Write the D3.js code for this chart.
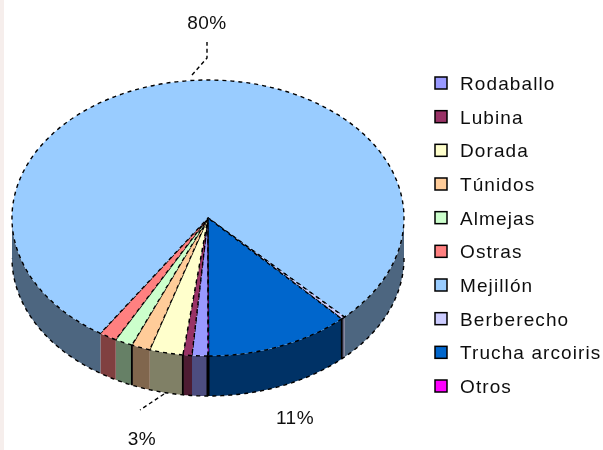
<!DOCTYPE html>
<html>
<head>
<meta charset="utf-8">
<script src="https://cdn.jsdelivr.net/npm/d3@7/dist/d3.min.js"></script>
<style>
  html, body { margin: 0; padding: 0; background: #fff; }
  svg { display: block; }
  text { font-family: "Liberation Sans", Arial, sans-serif; fill: #111; }
</style>
</head>
<body>
<svg width="603" height="450"></svg>
<script>
var categories = ["Rodaballo", "Lubina", "Dorada", "Túnidos", "Almejas", "Ostras",
  "Mejillón", "Berberecho", "Trucha arcoiris", "Otros"];
var shares = [1.3, 0.75, 2.75, 1.55, 1.45, 1.45, 78.5, 0.3, 11.9, 0.05];
var colors = ["#9999ff", "#993366", "#ffffcc", "#ffcc99", "#ccffcc", "#ff8080",
  "#99ccff", "#ccccff", "#0066cc", "#ff00ff"];

var svg = d3.select("svg"),
  width = +svg.attr("width"),
  height = +svg.attr("height");

var cx = 208, cy = 218, rx = 196, ry = 138, depth = 40;

var defs = svg.append("defs");
defs.append("filter").attr("id", "soft")
  .attr("x", "-5%").attr("y", "-5%").attr("width", "110%").attr("height", "110%")
  .append("feGaussianBlur").attr("stdDeviation", 0.7);

// pale band down the left edge of the scan
svg.append("rect")
  .attr("width", 4).attr("height", height)
  .attr("fill", "#f6eeec");

var root = svg.append("g").attr("filter", "url(#soft)");

// first slice starts at the bottom of the pie and runs clockwise
var pie = d3.pie().sort(null).value(function (d) { return d; })
  .startAngle(Math.PI).endAngle(3 * Math.PI);
var slices = pie(shares);

function px(a) { return cx + rx * Math.sin(a); }
function py(a) { return cy - ry * Math.cos(a); }

// only the parts between 90deg and 270deg (and one turn on) face the viewer
var frontBands = [[Math.PI / 2, 1.5 * Math.PI], [2.5 * Math.PI, 3.5 * Math.PI]];

var wallArea = d3.area()
  .x(function (a) { return px(a); })
  .y0(function (a) { return py(a); })
  .y1(function (a) { return py(a) + depth; });

var walls = [];
slices.forEach(function (s, i) {
  frontBands.forEach(function (band) {
    var a0 = Math.max(s.startAngle, band[0]),
      a1 = Math.min(s.endAngle, band[1]);
    if (a1 > a0) walls.push({ i: i, a0: a0, a1: a1 });
  });
});

root.append("g").selectAll("path")
  .data(walls)
  .enter()
  .append("path")
  .attr("fill", function (d) { return d3.interpolateRgb(colors[d.i], "#000")(0.5); })
  .attr("d", function (d) { return wallArea(d3.range(d.a0, d.a1, 0.01).concat(d.a1)); });

// vertical seams on the wall
var seams = [1, 3, 7];
root.append("g").selectAll("line")
  .data(seams)
  .enter()
  .append("line")
  .attr("x1", function (d) { return px(slices[d].endAngle); })
  .attr("x2", function (d) { return px(slices[d].endAngle); })
  .attr("y1", function (d) { return py(slices[d].endAngle); })
  .attr("y2", function (d) { return py(slices[d].endAngle) + depth; })
  .attr("stroke", "#000").attr("stroke-width", 1.8);
root.append("line")
  .attr("x1", px(Math.PI)).attr("x2", px(Math.PI))
  .attr("y1", py(Math.PI)).attr("y2", py(Math.PI) + depth)
  .attr("stroke", "#000").attr("stroke-width", 3);

// lower rim of the wall
var rim = d3.line()
  .x(function (a) { return px(a); })
  .y(function (a) { return py(a) + depth; });
root.append("path")
  .attr("d", rim(d3.range(Math.PI / 2, 1.5 * Math.PI, 0.01)))
  .attr("fill", "none").attr("stroke", "#000")
  .attr("stroke-width", 1.4)
  .attr("stroke-dasharray", "4 4");

// top face, drawn on a unit circle then squashed to the ellipse
var arc = d3.arc().innerRadius(0).outerRadius(1);
root.append("g")
  .attr("transform", "translate(" + cx + "," + cy + ") scale(" + rx + "," + ry + ")")
  .selectAll("path")
  .data(slices)
  .enter()
  .append("path")
  .attr("d", arc)
  .attr("fill", function (d, i) { return colors[i]; })
  .attr("stroke", "#000")
  .attr("stroke-width", 1.4)
  .attr("stroke-dasharray", "4 4")
  .attr("vector-effect", "non-scaling-stroke");

// leader lines
var leaders = [
  [[192, 75], [207, 58], [207, 42]],
  [[164, 394], [140, 410]]
];
root.append("g").selectAll("path")
  .data(leaders)
  .enter()
  .append("path")
  .attr("d", d3.line())
  .attr("fill", "none").attr("stroke", "#000")
  .attr("stroke-width", 1.4)
  .attr("stroke-dasharray", "4 3");

var pieLabels = ["80%", "11%", "3%"];
var labelX = [207, 295, 142], labelY = [29, 424, 445];
root.append("g").selectAll("text")
  .data(pieLabels)
  .enter()
  .append("text")
  .attr("x", function (d, i) { return labelX[i]; })
  .attr("y", function (d, i) { return labelY[i]; })
  .attr("text-anchor", "middle")
  .attr("font-size", 19)
  .attr("letter-spacing", 0.5)
  .text(function (d) { return d; });

// legend
var legendY = d3.scalePoint().domain(categories).range([83, 386]);
var legend = root.append("g").selectAll("g")
  .data(categories)
  .enter()
  .append("g")
  .attr("transform", function (d) { return "translate(435," + legendY(d) + ")"; });

legend.append("rect")
  .attr("x", 0).attr("y", -6).attr("width", 12).attr("height", 12)
  .attr("fill", function (d, i) { return colors[i]; })
  .attr("stroke", "#000").attr("stroke-width", 1.5);

legend.append("text")
  .attr("x", 25).attr("y", 7)
  .attr("font-size", 19)
  .attr("letter-spacing", 1.1)
  .text(function (d) { return d; });
</script>
</body>
</html>
